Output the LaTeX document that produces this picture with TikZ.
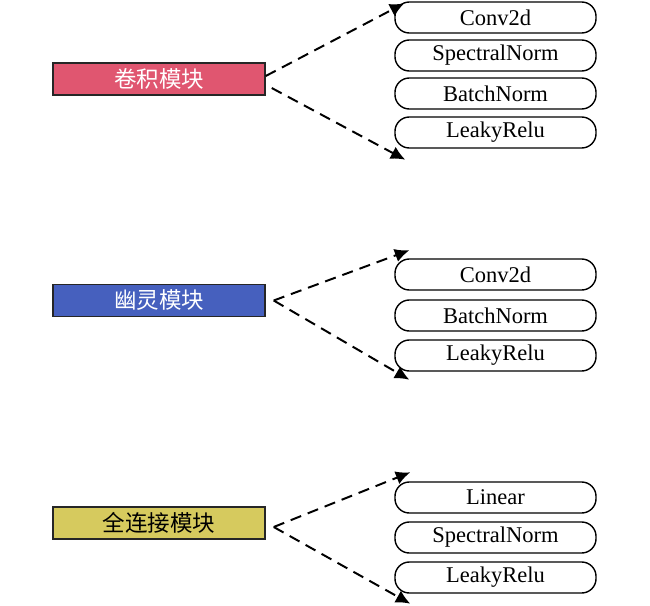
\documentclass[tikz,border=0pt]{standalone}
\usepackage{fontspec}
\setmainfont{Liberation Serif}
\newfontfamily\cjk{Noto Sans CJK SC}
\usetikzlibrary{arrows.meta,calc}
\definecolor{rossoconv}{RGB}{224,86,112}
\definecolor{bluefant}{RGB}{70,96,190}
\definecolor{gialloflc}{RGB}{214,202,94}
\tikzset{
  modulo/.style={draw=black!85,line width=1pt,minimum width=5.3cm,minimum height=0.8cm,inner sep=0pt,font=\cjk\fontsize{16}{16}\selectfont},
  strato/.style={draw,line width=1pt,rounded corners=0.36cm,minimum width=5.025cm,minimum height=0.775cm,inner sep=0pt,font=\fontsize{16}{16}\selectfont},
  freccia/.style={-{Latex[length=0.36cm,width=0.34cm]},line width=1.4pt,dash pattern=on 8pt off 5pt}
}
\begin{document}
\begin{tikzpicture}[x=0.025cm,y=-0.025cm]
        \useasboundingbox (0,0) rectangle (650,605);
        %modulo convolutivo
        \node[modulo,fill=rossoconv,text=white] (m1) at (159,79) {卷积模块};
        \node[strato] (a1) at (495.5,17.5) {Conv2d};
        \node[strato] (a2) at (495.5,55.5) {SpectralNorm};
        \node[strato] (a3) at (495.5,93.5) {BatchNorm};
        \node[strato] (a4) at (495.5,132.5) {LeakyRelu};
        \draw[freccia] ($(m1.east)+(0,-3)$) -- ($(a1.north west)+(10,2)$);
        \draw[freccia] ($(m1.east)+(6,9)$) -- ($(a4.south west)+(11,11)$);
        %modulo fantasma
        \node[modulo,fill=bluefant,text=white] (m2) at (159,300.5) {幽灵模块};
        \node[strato] (b1) at (495.5,274.5) {Conv2d};
        \node[strato] (b2) at (495.5,315.5) {BatchNorm};
        \node[strato] (b3) at (495.5,355.5) {LeakyRelu};
        \coordinate (p2) at ($(m2.east)+(8,0)$);
        \draw[freccia] (p2) -- ($(b1.north west)+(15,-8)$);
        \draw[freccia] (p2) -- ($(b3.south west)+(15,8)$);
        %modulo completamente connesso
        \node[modulo,fill=gialloflc] (m3) at (159,523) {全连接模块};
        \node[strato] (c1) at (495.5,497.5) {Linear};
        \node[strato] (c2) at (495.5,537.5) {SpectralNorm};
        \node[strato] (c3) at (495.5,577.5) {LeakyRelu};
        \coordinate (p3) at ($(m3.east)+(8,4)$);
        \draw[freccia] (p3) -- ($(c1.north west)+(16,-9)$);
        \draw[freccia] (p3) -- ($(c3.south west)+(16,10)$);
\end{tikzpicture}
\end{document}
